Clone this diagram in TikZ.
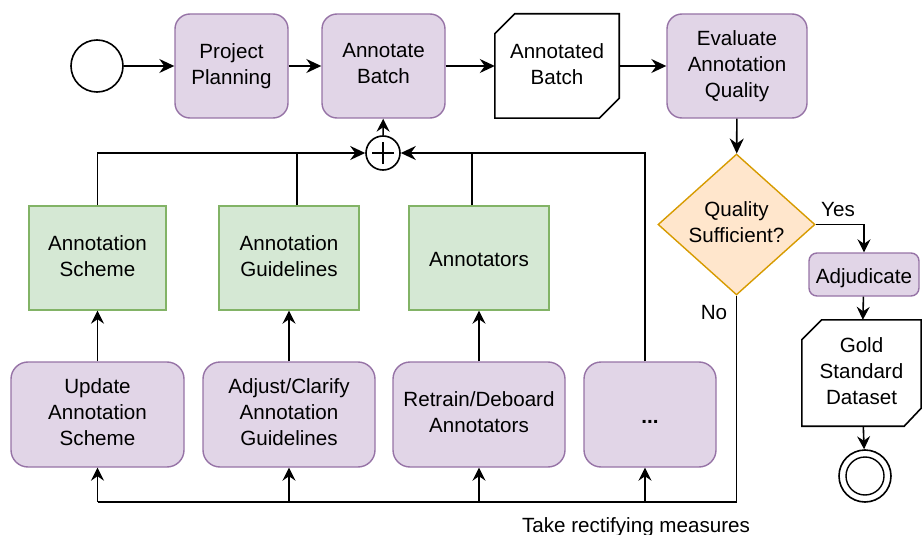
\documentclass[tikz,border=0pt]{standalone}
\usepackage{fontspec}
\setmainfont{Liberation Sans}
\usetikzlibrary{shapes.geometric,arrows.meta,calc}
\definecolor{pfill}{HTML}{E1D5E7}
\definecolor{pdraw}{HTML}{9673A6}
\definecolor{gfill}{HTML}{D5E8D4}
\definecolor{gdraw}{HTML}{82B366}
\definecolor{ofill}{HTML}{FFE6CC}
\definecolor{odraw}{HTML}{D79B00}
\newcommand{\topstrut}{\rule{0pt}{21.8pt}}
\newcommand{\botstrut}{\rule[-4.4pt]{0pt}{4.4pt}}
\tikzset{
  lbl/.style={font=\fontsize{20.6}{25.8}\selectfont, align=center, inner sep=0pt,
    execute at begin node=\topstrut, execute at end node=\botstrut},
  task/.style={lbl, rectangle, rounded corners=15pt, fill=pfill, draw=pdraw, line width=1.4pt},
  res/.style={lbl, rectangle, fill=gfill, draw=gdraw, line width=1.4pt},
  data/.style={lbl, rectangle},
  flow/.style={line width=1.6pt, draw=black},
  arr/.style={flow, -{Stealth[length=15pt,width=14pt,inset=5pt]}},
  sarr/.style={flow, -{Stealth[length=13pt,width=13pt,inset=4.5pt]}},
}
\begin{document}
\begin{tikzpicture}[x=1pt,y=-1pt]
\useasboundingbox (0,0) rectangle (922,535);
% top row
\node[circle, draw, line width=1.6pt, minimum size=52pt, inner sep=0pt] (start) at (97,66) {};
\node[task, minimum width=113pt, minimum height=104pt] (pp) at (231.5,66) {Project\\Planning};
\node[task, minimum width=123pt, minimum height=104pt] (ab) at (383.5,66) {Annotate\\Batch};
\node[data, minimum width=124pt, minimum height=104pt] (abd) at (557,66) {Annotated\\Batch};
\draw[line width=1.6pt] ([yshift=-20pt]abd.north west) -- ([xshift=20pt]abd.north west) -- (abd.north east) -- ([yshift=20pt]abd.south east) -- ([xshift=-20pt]abd.south east) -- (abd.south west) -- cycle;
\node[task, minimum width=140pt, minimum height=104pt] (eval) at (737,66) {Evaluate\\Annotation\\Quality};
% decision
\node[lbl, diamond, fill=ofill, draw=odraw, line width=1.4pt, minimum width=157pt, minimum height=139pt] (dec) at (736.5,224.5) {Quality\\Sufficient?};
\node[task, rounded corners=8pt, minimum width=110pt, minimum height=43pt] (adj) at (864,274.5) {Adjudicate};
\node[data, minimum width=119pt, minimum height=106pt] (gold) at (861.5,373) {Gold\\Standard\\Dataset};
\draw[line width=1.6pt] ([yshift=-20pt]gold.north west) -- ([xshift=20pt]gold.north west) -- (gold.north east) -- ([yshift=18pt]gold.south east) -- ([xshift=-17pt]gold.south east) -- (gold.south west) -- cycle;
\node[circle, draw, line width=1.6pt, minimum size=52pt, inner sep=0pt] (end) at (865,476) {};
\node[circle, draw, line width=1.4pt, minimum size=38pt, inner sep=0pt] (endin) at (865,476) {};
% plus gateway
\node[circle, draw, line width=1.6pt, minimum size=34pt, inner sep=0pt] (plus) at (383,153) {};
\draw[line width=1.6pt] ([xshift=-11pt]plus.center) -- ([xshift=11pt]plus.center);
\draw[line width=1.6pt] ([yshift=-11pt]plus.center) -- ([yshift=11pt]plus.center);
% resources
\node[res, minimum width=137pt, minimum height=104pt] (scheme) at (97.5,258) {Annotation\\Scheme};
\node[res, minimum width=140pt, minimum height=104pt] (guide) at (289,258) {Annotation\\Guidelines};
\node[res, minimum width=140pt, minimum height=104pt] (anns) at (479,258) {Annotators};
% measures
\node[task, rounded corners=17pt, minimum width=173pt, minimum height=105pt] (upd) at (97.5,414.5) {Update\\Annotation\\Scheme};
\node[task, rounded corners=17pt, minimum width=172pt, minimum height=105pt] (adjc) at (289,414.5) {Adjust/Clarify\\Annotation\\Guidelines};
\node[task, rounded corners=17pt, minimum width=172pt, minimum height=105pt] (retr) at (479,414.5) {Retrain/Deboard\\Annotators};
\node[task, rounded corners=17pt, minimum width=132pt, minimum height=105pt] (dots) at (650,414.5) {\textbf{...}};
% labels
\node[lbl] (yes) at (838,208) {Yes};
\node[lbl] (no) at (714,311) {No};
\node[lbl] (take) at (636,524) {Take rectifying measures};
\coordinate (top) at (0,153);
\coordinate (bl) at (0,502);
% connectors
\draw[arr] (start) -- (pp);
\draw[arr] (pp) -- (ab);
\draw[arr] (ab) -- (abd);
\draw[arr] (abd) -- (eval);
\draw[arr] (eval) -- (dec);
\draw[sarr] (dec.east) -| (adj.north);
\draw[sarr] (adj) -- (gold);
\draw[sarr] (gold) -- (end);
\draw[sarr] (plus) -- (ab);
\draw[arr] (scheme.north) |- (plus.west);
\draw[flow] ([xshift=8pt]guide.north) -- ([xshift=8pt]guide.north |- top);
\draw[arr] ([xshift=-7pt]anns.north) |- (plus.east);
\draw[flow] ([xshift=-5pt]dots.north) |- ([xshift=-7pt]anns.north |- top);
\draw[flow] (dec.south) |- (upd.south |- bl);
\draw[sarr] (upd.south |- bl) -- (upd.south);
\draw[sarr] (adjc.south |- bl) -- (adjc.south);
\draw[sarr] (retr.south |- bl) -- (retr.south);
\draw[sarr] ([xshift=-5pt]dots.south |- bl) -- ([xshift=-5pt]dots.south);
\draw[sarr] (upd.north) -- (scheme.south);
\draw[sarr] (adjc.north) -- (guide.south);
\draw[sarr] (retr.north) -- (anns.south);
\end{tikzpicture}
\end{document}
